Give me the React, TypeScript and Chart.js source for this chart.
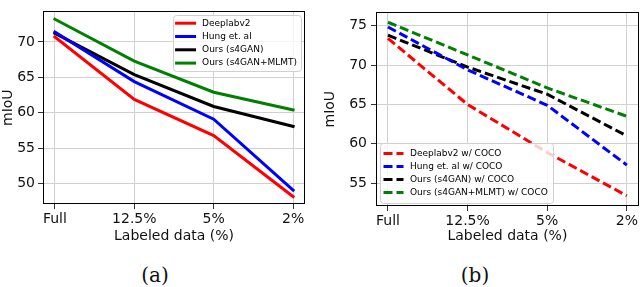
import React, { useEffect, useRef } from "react";
import { Chart, registerables } from "chart.js";

Chart.register(...registerables);

const categories = ["Full", "12.5%", "5%", "2%"];

const seriesLabelsA = ["Deeplabv2", "Hung et. al", "Ours (s4GAN)", "Ours (s4GAN+MLMT)"];
const deeplabA = [70.7, 61.9, 56.8, 48.2];
const hungA = [71.4, 64.4, 59.1, 49.1];
const s4ganA = [71.2, 65.4, 60.9, 58.1];
const mlmtA = [73.2, 67.3, 62.9, 60.4];
const yTicksA = [50, 55, 60, 65, 70];

const seriesLabelsB = [
  "Deeplabv2 w/ COCO",
  "Hung et. al w/ COCO",
  "Ours (s4GAN) w/ COCO",
  "Ours (s4GAN+MLMT) w/ COCO",
];
const deeplabB = [73.4, 65.0, 58.9, 53.4];
const hungB = [74.85, 69.4, 64.9, 57.3];
const s4ganB = [73.8, 69.75, 66.3, 61.0];
const mlmtB = [75.45, 71.3, 67.1, 63.5];
const yTicksB = [55, 60, 65, 70, 75];

const colors = ["#ff0000", "#0000ff", "#000000", "#008000"];

const FONT = "'DejaVu Sans', sans-serif";

const framePlugin = {
  id: "frame",
  afterDraw(chart: any) {
    const { ctx, chartArea: ca } = chart;
    ctx.save();
    ctx.strokeStyle = "#000";
    ctx.lineWidth = 1;
    const l = Math.round(ca.left) + 0.5;
    const t = Math.round(ca.top) + 0.5;
    const r = Math.round(ca.right) - 0.5;
    const b = Math.round(ca.bottom) - 0.5;
    ctx.strokeRect(l, t, r - l, b - t);
    ctx.restore();
  },
};

const boxLegendPlugin = {
  id: "boxLegend",
  afterDraw(chart: any, _args: any, opts: any) {
    if (!opts || !opts.show) return;
    const { ctx, chartArea: ca } = chart;
    const ds = chart.data.datasets;
    ctx.save();
    ctx.font = `${opts.fontSize}px ${FONT}`;
    const textW = Math.max(...ds.map((d: any) => ctx.measureText(d.label).width));
    const w = opts.padX + opts.handle + opts.gap + textW + opts.padRight;
    const h = opts.padTop + (ds.length - 1) * opts.rowH + opts.padBottom;
    const x = opts.corner === "tr" ? ca.right - opts.margin - w : ca.left + opts.margin;
    const y = opts.corner === "tr" ? ca.top + opts.margin : ca.bottom - opts.margin - h;
    ctx.beginPath();
    (ctx as any).roundRect(Math.round(x) + 0.5, Math.round(y) + 0.5, Math.round(w), Math.round(h), 3);
    ctx.fillStyle = "rgba(255,255,255,0.8)";
    ctx.fill();
    ctx.strokeStyle = "#d0d0d0";
    ctx.lineWidth = 1;
    ctx.stroke();
    ds.forEach((d: any, i: number) => {
      const cy = y + opts.padTop + i * opts.rowH;
      ctx.beginPath();
      ctx.setLineDash(d.borderDash || []);
      ctx.strokeStyle = d.borderColor;
      ctx.lineWidth = d.borderWidth;
      ctx.lineCap = "butt";
      ctx.moveTo(x + opts.padX, cy);
      ctx.lineTo(x + opts.padX + opts.handle, cy);
      ctx.stroke();
      ctx.setLineDash([]);
      ctx.fillStyle = "#000";
      ctx.textBaseline = "middle";
      ctx.textAlign = "left";
      ctx.fillText(d.label, x + opts.padX + opts.handle + opts.gap, cy);
    });
    ctx.restore();
  },
};

function makeConfig(
  labels: string[],
  series: number[][],
  yTicks: number[],
  yMin: number,
  yMax: number,
  dashed: boolean,
  yWidth: number,
  xHeight: number,
  padding: any,
  legendOpts: any,
  yTitlePad: number,
  yTickPad: number
): any {
  return {
    type: "line",
    data: {
      datasets: series.map((vals, k) => ({
        label: labels[k],
        data: vals.map((v, i) => ({ x: i, y: v })),
        borderColor: colors[k],
        backgroundColor: colors[k],
        borderWidth: 3,
        borderDash: dashed ? [9, 4] : [],
        borderCapStyle: dashed ? "butt" : "square",
        pointRadius: 0,
        tension: 0,
        fill: false,
      })),
    },
    options: {
      responsive: false,
      animation: false,
      events: [],
      layout: { padding },
      plugins: {
        legend: { display: false },
        tooltip: { enabled: false },
        boxLegend: legendOpts,
      },
      scales: {
        x: {
          type: "linear",
          min: -0.15,
          max: 3.15,
          afterBuildTicks: (s: any) => {
            s.ticks = categories.map((_, i) => ({ value: i }));
          },
          afterFit: (s: any) => {
            s.height = xHeight;
          },
          ticks: {
            callback: (v: any) => categories[Math.round(Number(v))],
            font: { size: 14, family: FONT },
            color: "#111",
            padding: 2,
            maxRotation: 0,
            autoSkip: false,
          },
          grid: { color: "#d0d0d0", lineWidth: 1, tickLength: 5, tickColor: "#333", drawTicks: true },
          border: { display: false },
          title: {
            display: true,
            text: "Labeled data (%)",
            font: { size: 14, family: FONT },
            color: "#111",
            padding: { top: 0, bottom: 5 },
          },
        },
        y: {
          type: "linear",
          min: yMin,
          max: yMax,
          afterBuildTicks: (s: any) => {
            s.ticks = yTicks.map((v) => ({ value: v }));
          },
          afterFit: (s: any) => {
            s.width = yWidth;
          },
          ticks: {
            font: { size: 14, family: FONT },
            color: "#111",
            padding: yTickPad,
          },
          grid: { color: "#d0d0d0", lineWidth: 1, tickLength: 5, tickColor: "#333", drawTicks: true },
          border: { display: false },
          title: {
            display: true,
            text: "mIoU",
            font: { size: 14, family: FONT },
            color: "#111",
            padding: { top: yTitlePad, bottom: 0 },
          },
        },
      },
    },
    plugins: [framePlugin, boxLegendPlugin],
  };
}

function LineChart({ config, style }: { config: any; style: any }) {
  const ref = useRef<HTMLCanvasElement | null>(null);
  useEffect(() => {
    if (!ref.current) return;
    const chart = new Chart(ref.current, config);
    return () => chart.destroy();
  }, [config]);
  return <canvas ref={ref} width={320} height={250} style={style} />;
}

const configA = makeConfig(
  seriesLabelsA,
  [deeplabA, hungA, s4ganA, mlmtA],
  yTicksA,
  47.15,
  74.3,
  false,
  43,
  46,
  { top: 3, right: 15, left: 0, bottom: 0 },
  { show: true, corner: "tr", margin: 4, fontSize: 9, padX: 2.5, handle: 21, gap: 6, padRight: 4, padTop: 7.8, rowH: 13.3, padBottom: 8.3 },
  0,
  3
);

const configB = makeConfig(
  seriesLabelsB,
  [deeplabB, hungB, s4ganB, mlmtB],
  yTicksB,
  52.1,
  76.7,
  true,
  56,
  44,
  { top: 2, right: 1, left: 0, bottom: 0 },
  { show: true, corner: "bl", margin: 3.5, fontSize: 9, padX: 4, handle: 20, gap: 6.5, padRight: 4.5, padTop: 11, rowH: 13, padBottom: 10 },
  2,
  4
);

const captionStyle: any = {
  position: "absolute",
  top: 263,
  width: 60,
  textAlign: "center",
  fontFamily: "'DejaVu Serif', serif",
  fontSize: 20,
  lineHeight: "24px",
  color: "#111",
};

export default function App() {
  return (
    <div style={{ position: "absolute", left: 0, top: 0, width: 640, height: 287, background: "#fff", overflow: "hidden" }}>
      <LineChart config={configA} style={{ position: "absolute", left: 0, top: 0, width: 320, height: 250 }} />
      <LineChart config={configB} style={{ position: "absolute", left: 320, top: 0, width: 320, height: 250 }} />
      <div style={{ ...captionStyle, left: 155 - 30 }}>(a)</div>
      <div style={{ ...captionStyle, left: 475 - 30 }}>(b)</div>
    </div>
  );
}
